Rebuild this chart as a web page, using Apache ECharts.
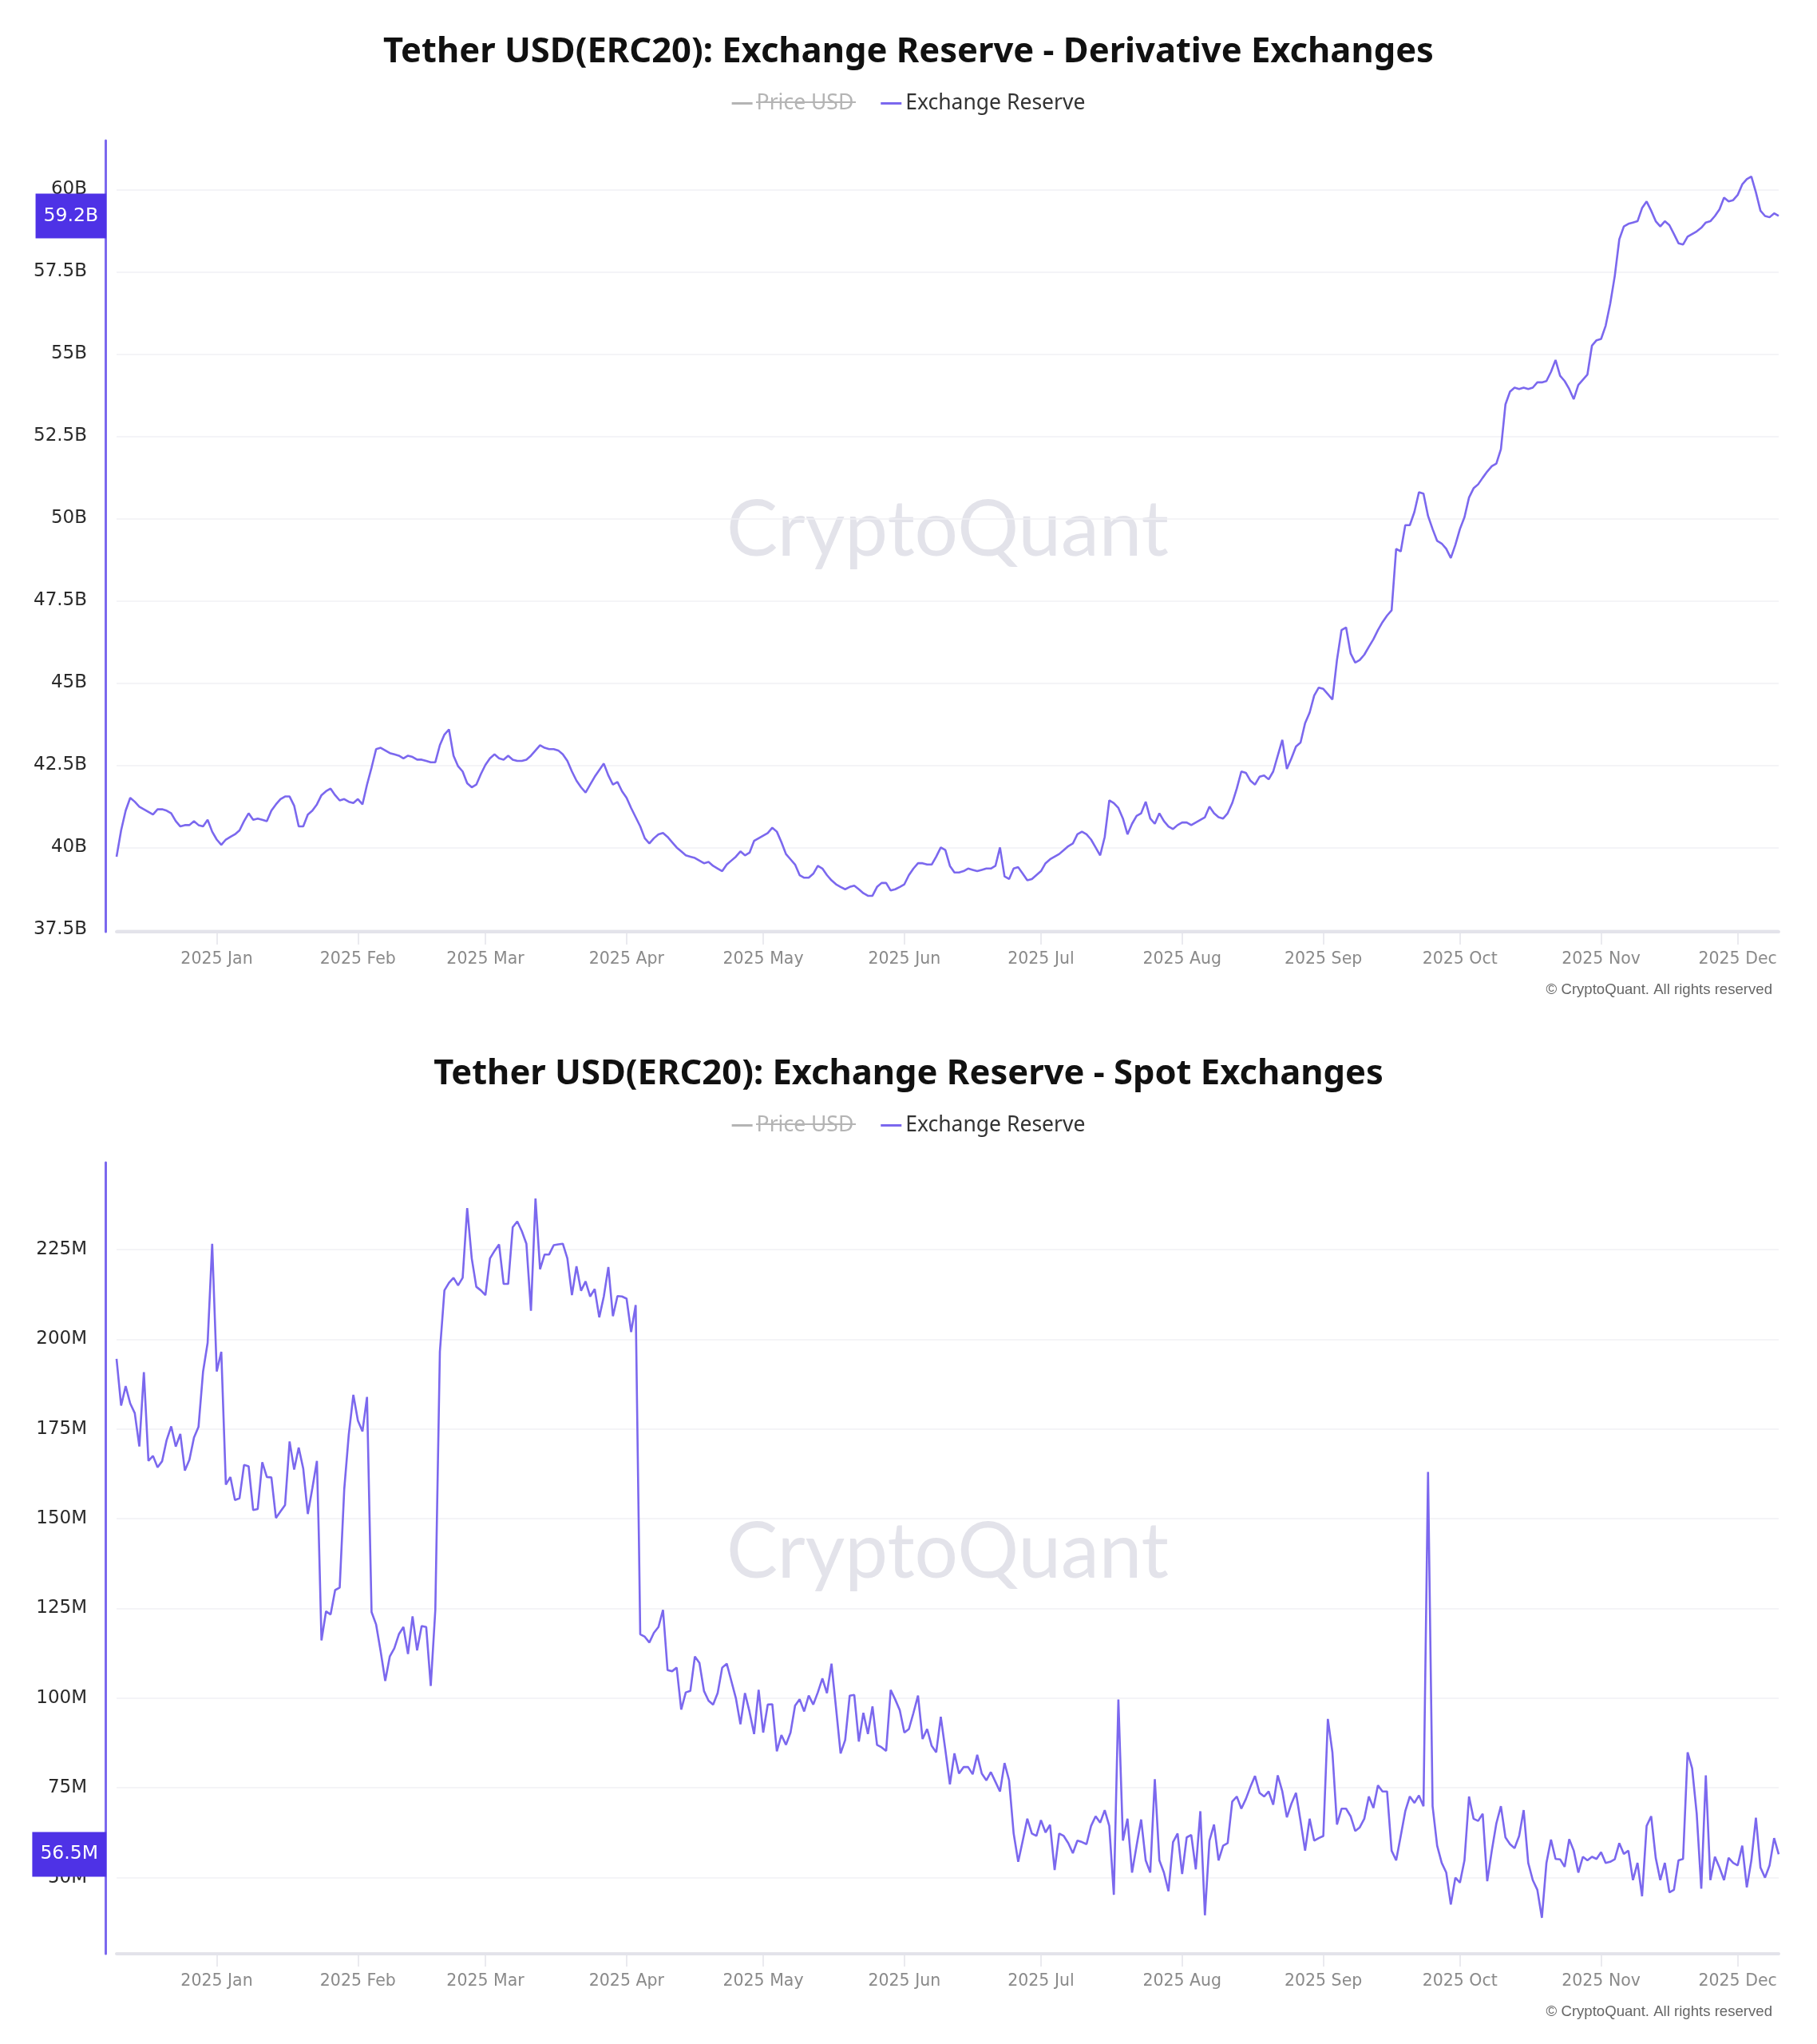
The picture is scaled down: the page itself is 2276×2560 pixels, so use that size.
<!DOCTYPE html>
<html>
<head>
<meta charset="utf-8">
<script src="https://cdn.jsdelivr.net/npm/echarts@6/dist/echarts.min.js"></script>
<style>
html, body { margin: 0; padding: 0; background: #ffffff; }
.panel { width: 2276px; height: 1280px; }
</style>
</head>
<body>
<div id="deriv" class="panel"></div>
<div id="spot" class="panel"></div>
<script>
// ---------------- DATA ----------------
const START_DATE = '2024-12-10';
const MONTH_NAMES = ['Jan','Feb','Mar','Apr','May','Jun','Jul','Aug','Sep','Oct','Nov','Dec'];

// Derivative exchanges reserve, billions USD (daily)
const DERIV_RESERVE_B = [
39.72,40.52,41.12,41.51,41.39,41.24,41.16,41.08,41.00,41.16,
41.16,41.12,41.04,40.80,40.64,40.68,40.68,40.80,40.68,40.64,
40.84,40.48,40.24,40.08,40.24,40.32,40.40,40.52,40.80,41.04,
40.84,40.88,40.84,40.80,41.12,41.31,41.47,41.55,41.55,41.27,
40.64,40.64,41.00,41.12,41.31,41.59,41.71,41.79,41.59,41.43,
41.47,41.39,41.35,41.47,41.31,41.91,42.43,42.99,43.03,42.95,
42.87,42.83,42.79,42.71,42.79,42.75,42.67,42.67,42.63,42.59,
42.59,43.11,43.43,43.59,42.79,42.47,42.31,41.95,41.83,41.91,
42.23,42.51,42.71,42.83,42.71,42.67,42.79,42.67,42.63,42.63,
42.67,42.79,42.95,43.11,43.03,42.99,42.99,42.95,42.83,42.63,
42.31,42.03,41.83,41.67,41.91,42.15,42.35,42.55,42.19,41.91,
41.99,41.71,41.51,41.20,40.92,40.64,40.28,40.12,40.28,40.40,
40.44,40.32,40.16,40.00,39.88,39.76,39.72,39.68,39.60,39.52,
39.56,39.44,39.36,39.28,39.48,39.60,39.72,39.88,39.76,39.84,
40.20,40.28,40.36,40.44,40.60,40.48,40.16,39.80,39.64,39.48,
39.16,39.08,39.08,39.20,39.44,39.36,39.16,39.00,38.88,38.80,
38.73,38.80,38.84,38.73,38.61,38.53,38.53,38.80,38.92,38.92,
38.69,38.73,38.80,38.88,39.16,39.36,39.52,39.52,39.48,39.48,
39.72,40.00,39.92,39.44,39.24,39.24,39.28,39.36,39.32,39.28,
39.32,39.36,39.36,39.44,40.00,39.12,39.04,39.36,39.40,39.20,
39.00,39.04,39.16,39.28,39.52,39.64,39.72,39.80,39.92,40.04,
40.12,40.40,40.48,40.40,40.24,40.00,39.76,40.32,41.43,41.35,
41.20,40.88,40.40,40.72,40.96,41.04,41.39,40.88,40.72,41.04,
40.80,40.64,40.56,40.68,40.76,40.76,40.68,40.76,40.84,40.92,
41.24,41.04,40.92,40.88,41.04,41.35,41.79,42.31,42.27,42.03,
41.91,42.15,42.19,42.07,42.31,42.79,43.27,42.39,42.71,43.07,
43.19,43.78,44.10,44.62,44.86,44.82,44.66,44.50,45.70,46.61,
46.69,45.90,45.62,45.70,45.86,46.10,46.33,46.61,46.85,47.05,
47.21,49.08,49.00,49.80,49.80,50.20,50.80,50.76,50.08,49.68,
49.32,49.24,49.08,48.80,49.20,49.68,50.04,50.64,50.92,51.04,
51.24,51.43,51.59,51.67,52.11,53.47,53.86,53.98,53.94,53.98,
53.94,53.98,54.14,54.14,54.18,54.46,54.82,54.34,54.18,53.94,
53.63,54.06,54.22,54.38,55.26,55.42,55.46,55.86,56.53,57.37,
58.49,58.88,58.96,59.00,59.04,59.44,59.64,59.36,59.04,58.88,
59.04,58.92,58.65,58.37,58.33,58.57,58.65,58.73,58.84,59.00,
59.04,59.20,59.40,59.76,59.64,59.68,59.84,60.16,60.32,60.40,
59.92,59.36,59.20,59.16,59.28,59.20
];

// Spot exchanges reserve, millions USD (daily)
const SPOT_RESERVE_M = [
194.5,181.5,186.9,182.1,179.4,170.1,190.8,166.1,167.5,164.3,
166.0,171.9,175.7,170.1,173.6,163.4,166.4,172.6,175.6,191.0,
199.0,226.6,191.0,196.5,159.5,161.6,155.2,155.7,165.0,164.6,
152.4,152.7,165.7,161.6,161.5,150.2,152.0,153.8,171.5,163.7,
169.8,163.9,151.3,158.5,166.1,116.1,124.2,123.3,130.1,130.8,
158.2,173.5,184.5,177.3,174.3,183.9,124.0,120.5,113.0,104.8,
111.6,113.9,117.8,119.8,112.3,122.8,113.3,120.1,119.8,103.4,
124.6,196.5,213.6,215.7,217.1,
215.0,217.1,236.5,222.5,214.6,213.6,212.3,222.5,224.6,226.4,
215.4,215.4,231.2,232.8,230.1,226.6,207.9,239.2,219.5,223.6,
223.6,226.2,226.4,226.6,222.5,212.3,220.3,213.5,216.1,211.9,
214.0,206.1,211.9,220.1,206.4,212.0,211.9,211.3,202.0,209.5,
117.8,117.1,115.5,118.2,119.8,124.6,107.8,107.5,108.5,96.8,
101.6,102.0,111.6,109.8,102.0,99.3,98.2,101.4,108.5,109.6,
104.8,100.0,92.7,101.4,96.2,90.0,102.3,90.4,98.2,98.3,
85.2,89.7,87.0,90.4,
97.9,99.7,96.3,100.7,98.2,101.6,105.5,101.4,109.6,97.2,
84.6,88.3,100.7,100.9,87.9,95.9,90.0,97.7,87.0,86.3,
85.3,102.3,99.6,96.6,90.4,91.4,95.9,100.7,88.6,91.4,
86.7,84.9,94.8,85.6,76.0,84.6,79.0,80.8,80.8,78.8,
84.2,79.0,77.1,79.4,76.7,74.0,81.9,77.1,62.3,54.4,
60.3,66.4,62.3,61.6,66.0,62.6,64.7,52.1,62.3,61.6,
59.6,56.8,60.3,59.9,59.3,64.4,67.1,65.3,68.8,64.4,
45.2,99.6,60.3,
66.4,51.4,58.9,66.2,54.8,51.4,77.4,54.8,51.4,46.2,
59.9,62.3,51.0,61.2,61.9,52.3,68.5,39.5,60.3,64.8,
54.8,58.9,59.6,71.2,72.6,69.2,71.9,75.3,78.3,73.6,
72.6,74.0,70.3,78.5,74.0,66.8,70.6,73.6,65.8,57.5,
66.4,60.3,61.0,61.6,94.2,84.9,64.8,69.2,69.2,67.1,
63.0,64.0,66.4,72.6,69.4,75.7,74.0,74.0,57.5,54.8,
61.6,68.5,72.6,70.8,72.9,69.9,163.0,69.9,58.9,54.1,
51.4,42.5,50.0,48.6,
54.8,72.6,66.4,65.8,67.8,49.0,57.5,65.1,69.9,61.2,
59.3,58.2,61.6,68.8,54.1,49.3,46.6,38.8,54.1,60.6,
55.2,55.1,53.0,60.7,57.5,51.4,55.8,54.8,55.8,55.2,
57.1,54.1,54.4,55.1,59.6,56.6,57.5,49.3,54.1,44.8,
64.4,67.1,55.5,49.3,54.1,45.9,46.6,54.8,55.2,84.9,
80.4,67.8,46.9,78.5,49.3,55.8,52.8,49.3,55.5,54.1,
53.4,58.9,47.3,54.8,66.7,52.8,50.0,53.4,61.0,56.5
];

// Y tick labels
const DERIV_TICKS_B = [37.5, 40, 42.5, 45, 47.5, 50, 52.5, 55, 57.5, 60];
const SPOT_TICKS_M = [50, 75, 100, 125, 150, 175, 200, 225];

const LEGEND_ITEMS = ['Price USD', 'Exchange Reserve'];
const TITLES = [
  'Tether USD(ERC20): Exchange Reserve - Derivative Exchanges',
  'Tether USD(ERC20): Exchange Reserve - Spot Exchanges'
];

// ---------------- BUILD ----------------
function buildDates(start, n) {
  const out = [];
  const d0 = new Date(start + 'T00:00:00Z');
  for (let i = 0; i < n; i++) {
    const d = new Date(d0.getTime() + i * 86400000);
    out.push(d.toISOString().slice(0, 10));
  }
  return out;
}

const LINE_COLOR = '#7b68ee';
const BADGE_COLOR = '#4e32e6';

function makeOption(title, data, ticks, unit) {
  const dates = buildDates(START_DATE, data.length);
  const isMonthStart = (i) => dates[i] && dates[i].slice(8) === '01';
  const fmt = (v) => (Math.round(v * 10) / 10) + unit;
  const last = data[data.length - 1];
  return {
    animation: false,
    backgroundColor: '#ffffff',
    title: {
      text: title,
      left: 'center',
      top: 39,
      textStyle: { fontFamily: 'Noto Sans', fontWeight: 'bold', fontSize: 43.5, color: '#111111' }
    },
    legend: {
      data: LEGEND_ITEMS,
      top: 111,
      left: 'center',
      icon: 'rect',
      itemWidth: 26,
      itemHeight: 3,
      itemGap: 34,
      selected: { 'Price USD': false },
      inactiveColor: '#b4b4b4',
      textStyle: { fontFamily: 'Noto Sans', fontSize: 26.5, color: '#333333' }
    },
    grid: { left: 146, right: 48, top: 176, bottom: 113, containLabel: false },
    xAxis: {
      type: 'category',
      data: dates,
      boundaryGap: false,
      axisLine: { show: true, lineStyle: { color: '#e3e3ea', width: 4 } },
      axisTick: {
        show: true, interval: (i) => isMonthStart(i), length: 16,
        lineStyle: { color: '#e3e3ea', width: 1.5 }
      },
      axisLabel: {
        interval: (i) => isMonthStart(i),
        formatter: (v) => v.slice(0, 4) + ' ' + MONTH_NAMES[parseInt(v.slice(5, 7), 10) - 1],
        color: '#8a8a8a', fontFamily: 'DejaVu Sans', fontSize: 20.5, margin: 24
      },
      splitLine: { show: false }
    },
    yAxis: {
      type: 'value',
      position: 'left',
      offset: 14,
      min: (e) => e.min - 0.05 * (e.max - e.min),
      max: (e) => e.max + 0.05 * (e.max - e.min),
      axisLine: { show: true, lineStyle: { color: LINE_COLOR, width: 3 } },
      axisTick: { show: false, customValues: ticks },
      axisLabel: {
        customValues: ticks,
        formatter: fmt,
        color: '#2a2a2a', fontFamily: 'DejaVu Sans', fontSize: 23, margin: 23
      },
      splitLine: { show: true, lineStyle: { color: '#f1f1f4', width: 1.5 } }
    },
    graphic: [
      {
        type: 'text', silent: true, z: 0,
        x: 146 + (2276 - 146 - 48) / 2, y: 176 + (1280 - 176 - 113) / 2 - 6,
        style: {
          text: 'CryptoQuant', fontFamily: 'Lato', fontSize: 96, fill: '#e3e3ea',
          textAlign: 'center', textVerticalAlign: 'middle'
        }
      },
      {
        type: 'text', silent: true,
        right: 56, top: 1230,
        style: {
          text: '\u00A9 CryptoQuant. All rights reserved', fontFamily: 'Liberation Sans',
          fontSize: 18.6, fill: '#666666'
        }
      },
      {
        type: 'line', silent: true, z: 100,
        shape: { x1: 947, y1: 128, x2: 1072, y2: 128 },
        style: { stroke: '#b4b4b4', lineWidth: 2 }
      }
    ],
    series: [
      {
        name: 'Price USD', type: 'line', data: [], showSymbol: false,
        itemStyle: { color: '#a0a0a0' }, lineStyle: { color: '#a0a0a0' }
      },
      {
        name: 'Exchange Reserve', type: 'line', data: data,
        showSymbol: false, symbol: 'none', clip: false,
        itemStyle: { color: LINE_COLOR },
        lineStyle: { color: LINE_COLOR, width: 2.6 },
        markLine: {
          silent: true, symbol: ['none', 'none'], z: 10,
          lineStyle: { color: 'rgba(0,0,0,0)', width: 1, type: 'solid' },
          emphasis: { disabled: true },
          label: {
            show: true, position: 'start', distance: 13,
            formatter: (p) => fmt(p.value),
            color: '#ffffff', backgroundColor: BADGE_COLOR,
            padding: [17, 10, 15, 10],
            fontFamily: 'DejaVu Sans', fontSize: 23.5
          },
          data: [{ yAxis: last }]
        }
      }
    ]
  };
}

const c1 = echarts.init(document.getElementById('deriv'), null, { renderer: 'canvas' });
c1.setOption(makeOption(TITLES[0], DERIV_RESERVE_B, DERIV_TICKS_B, 'B'));
const c2 = echarts.init(document.getElementById('spot'), null, { renderer: 'canvas' });
c2.setOption(makeOption(TITLES[1], SPOT_RESERVE_M, SPOT_TICKS_M, 'M'));
</script>
</body>
</html>
